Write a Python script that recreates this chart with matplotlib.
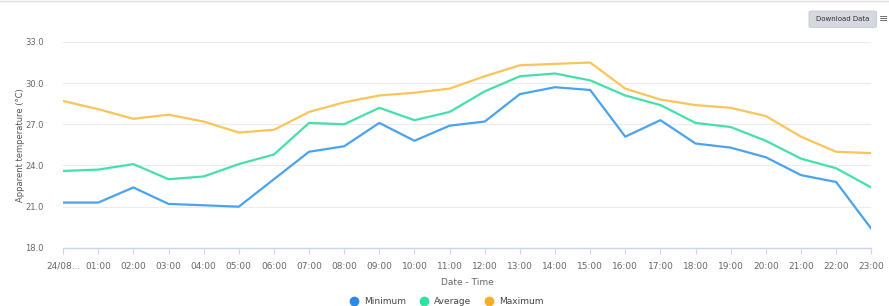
import matplotlib
matplotlib.use("Agg")
import matplotlib.pyplot as plt
from matplotlib.patches import FancyBboxPatch
from matplotlib.lines import Line2D

hours = ["24/08...", "01:00", "02:00", "03:00", "04:00", "05:00", "06:00", "07:00",
         "08:00", "09:00", "10:00", "11:00", "12:00", "13:00", "14:00", "15:00",
         "16:00", "17:00", "18:00", "19:00", "20:00", "21:00", "22:00", "23:00"]
minimum = [21.3, 21.3, 22.4, 21.2, 21.1, 21.0, 23.0, 25.0, 25.4, 27.1, 25.8, 26.9,
           27.2, 29.2, 29.7, 29.5, 26.1, 27.3, 25.6, 25.3, 24.6, 23.3, 22.8, 19.4]
average = [23.6, 23.7, 24.1, 23.0, 23.2, 24.1, 24.8, 27.1, 27.0, 28.2, 27.3, 27.9,
           29.4, 30.5, 30.7, 30.2, 29.1, 28.4, 27.1, 26.8, 25.8, 24.5, 23.8, 22.4]
maximum = [28.7, 28.1, 27.4, 27.7, 27.2, 26.4, 26.6, 27.9, 28.6, 29.1, 29.3, 29.6,
           30.5, 31.3, 31.4, 31.5, 29.6, 28.8, 28.4, 28.2, 27.6, 26.1, 25.0, 24.9]
yticks = [18.0, 21.0, 24.0, 27.0, 30.0, 33.0]

c_min, c_avg, c_max = "#4aa3ec", "#45e0a8", "#f9c55a"
leg_min, leg_avg, leg_max = "#2b8ae8", "#2fe0a0", "#f7ad2a"

fig = plt.figure(figsize=(8.89, 3.06), dpi=100)
ax = fig.add_axes([0.071, 0.19, 0.909, 0.673])
x = list(range(len(hours)))
ax.plot(x, minimum, color=c_min, lw=1.6, zorder=3)
ax.plot(x, average, color=c_avg, lw=1.6, zorder=3)
ax.plot(x, maximum, color=c_max, lw=1.6, zorder=3)

ax.set_xlim(0, len(hours) - 1)
ax.set_ylim(18, 33)
ax.set_yticks(yticks)
ax.set_yticklabels([f"{v:.1f}" for v in yticks], fontsize=6, color="#666666")
ax.set_xticks(x)
ax.set_xticklabels(hours, fontsize=6.5, color="#666666")
ax.grid(axis="y", color="#ececec", lw=0.8)
ax.set_axisbelow(True)
for s in ["top", "right", "left"]:
    ax.spines[s].set_visible(False)
ax.spines["bottom"].set_color("#ccd6eb")
ax.spines["bottom"].set_linewidth(1.0)
ax.tick_params(axis="y", length=0, pad=14)
ax.tick_params(axis="x", length=4, color="#ccd6eb", pad=6)
ax.set_xlabel("Date - Time", fontsize=6.5, color="#666666", labelpad=5)
ax.set_ylabel("Apparent temperature (°C)", fontsize=6, color="#555555", labelpad=0)

handles = [Line2D([], [], marker="o", ls="", color=c, markersize=6) for c in (leg_min, leg_avg, leg_max)]
fig.legend(handles, ["Minimum", "Average", "Maximum"], loc="center", bbox_to_anchor=(0.5, 0.015),
           ncol=3, frameon=False, fontsize=6.5, handletextpad=0.1, columnspacing=1.0,
           labelcolor="#444444")

# Download button
btn = FancyBboxPatch((0.912, 0.912), 0.072, 0.05, boxstyle="round,pad=0.002,rounding_size=0.004",
                     transform=fig.transFigure, facecolor="#d5d8de", edgecolor="#c4c8ce", lw=0.6)
fig.patches.append(btn)
fig.text(0.948, 0.937, "Download Data", fontsize=5, ha="center", va="center", color="#333333")
fig.text(0.994, 0.937, "≡", fontsize=8, ha="center", va="center", color="#666666")
fig.add_artist(Line2D([0, 1], [0.997, 0.997], transform=fig.transFigure, color="#dddddd", lw=1))

fig.savefig("out.png", dpi=100)
